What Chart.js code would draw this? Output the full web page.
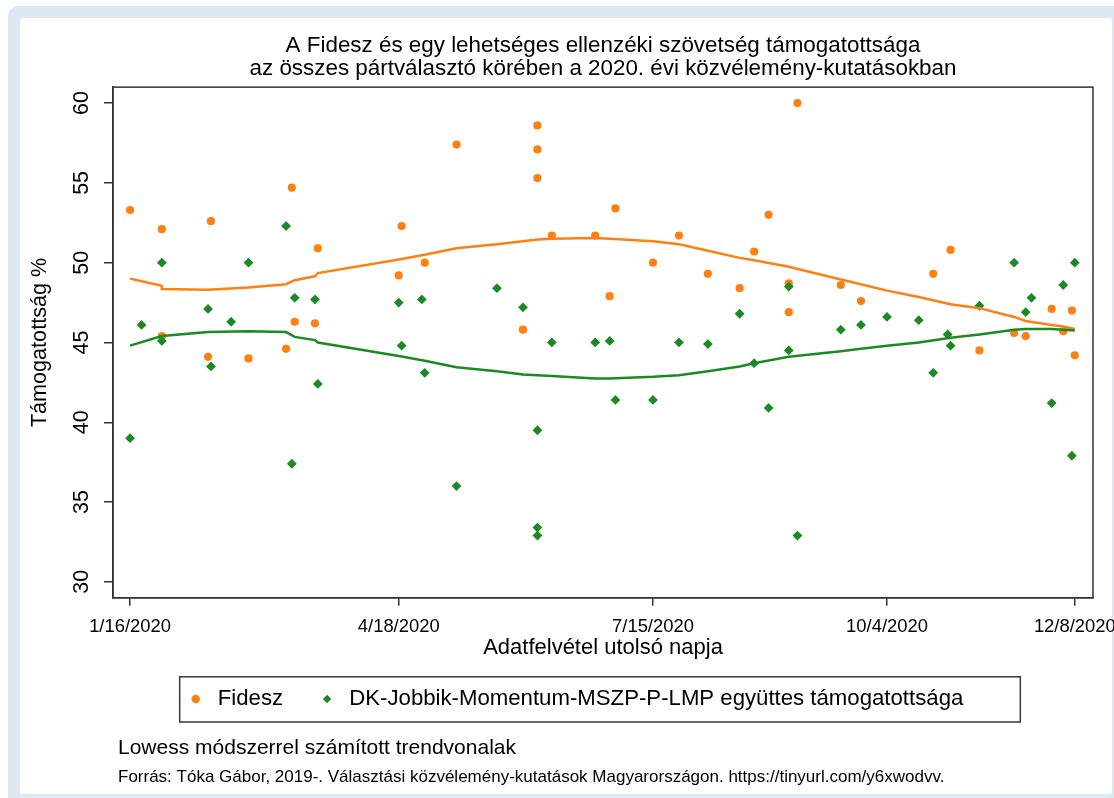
<!DOCTYPE html>
<html>
<head>
<meta charset="utf-8">
<script src="https://cdn.jsdelivr.net/npm/chart.js@4.4.1/dist/chart.umd.min.js"></script>
<style>
  html, body { margin: 0; padding: 0; background: #ffffff; overflow: hidden; }
  #wrap { width: 1114px; height: 798px; }
</style>
</head>
<body>
<div id="wrap"><canvas id="c" width="1114" height="798"></canvas></div>
<script>
// ---- DATA (x = days since 2020-01-16, the last fieldwork day) ----
const xTickDays   = [0, 93, 181, 262, 327];
const xTickLabels = ['1/16/2020', '4/18/2020', '7/15/2020', '10/4/2020', '12/8/2020'];
const yTicks      = [30, 35, 40, 45, 50, 55, 60];

const fideszDay = [0,11,11,27,28,41,54,56,57,64,65,93,94,102,113,136,141,141,141,146,161,166,168,181,190,200,211,216,221,228,228,231,246,253,278,284,294,306,310,319,323,326,327];
const fideszVal = [53.3,52.1,45.4,44.1,52.6,44.0,44.6,54.7,46.3,46.2,50.9,49.2,52.3,50.0,57.4,45.8,58.6,57.1,55.3,51.7,51.7,47.9,53.4,50.0,51.7,49.3,48.4,50.7,53.0,48.7,46.9,60.0,48.6,47.6,49.3,50.8,44.5,45.6,45.4,47.1,45.7,47.0,44.2];

const ellenDay = [0,4,11,11,27,28,35,41,54,56,57,64,65,93,94,101,102,113,127,136,141,141,141,146,161,166,168,181,190,200,211,216,221,228,228,231,246,253,262,273,278,283,284,294,306,310,312,319,323,326,327];
const ellenVal = [39.0,46.1,50.0,45.1,47.1,43.5,46.3,50.0,52.3,37.4,47.8,47.7,42.4,47.5,44.8,47.7,43.1,36.0,48.4,47.2,39.5,33.4,32.9,45.0,45.0,45.1,41.4,41.4,45.0,44.9,46.8,43.7,40.9,48.5,44.5,32.9,45.8,46.1,46.6,46.4,43.1,45.5,44.8,47.3,50.0,46.9,47.8,41.2,48.6,37.9,50.0];

const fideszTrendDay = [0,11,11,27,41,54,57,64,65,93,102,113,127,136,141,146,161,166,181,190,200,211,216,228,246,253,262,273,284,294,306,310,319,323,327];
const fideszTrendVal = [49.0,48.55,48.35,48.3,48.45,48.65,48.9,49.15,49.35,50.2,50.5,50.9,51.15,51.35,51.45,51.5,51.55,51.5,51.35,51.15,50.75,50.3,50.15,49.75,48.95,48.65,48.25,47.85,47.4,47.15,46.6,46.35,46.1,46.0,45.85];

const ellenTrendDay = [0,11,27,41,54,57,64,65,93,102,113,127,136,141,146,161,166,181,190,200,211,216,228,246,253,262,273,284,294,306,310,319,323,327];
const ellenTrendVal = [44.8,45.4,45.65,45.7,45.65,45.35,45.15,45.0,44.15,43.85,43.45,43.2,43.0,42.95,42.9,42.75,42.75,42.85,42.95,43.2,43.5,43.7,44.1,44.45,44.6,44.8,45.0,45.3,45.5,45.8,45.85,45.85,45.8,45.75];

const seriesLabels = ['Fidesz', 'DK-Jobbik-Momentum-MSZP-P-LMP együttes támogatottsága'];
const titleLines = ['A Fidesz és egy lehetséges ellenzéki szövetség támogatottsága',
                    'az összes pártválasztó körében a 2020. évi közvélemény-kutatásokban'];
const noteLine1 = 'Lowess módszerrel számított trendvonalak';
const noteLine2 = 'Forrás: Tóka Gábor, 2019-. Választási közvélemény-kutatások Magyarországon. https://tinyurl.com/y6xwodvv.';

// ---- STYLE ----
const ORANGE = '#ff8012';
const GREEN  = '#1b8a22';
const AXIS   = '#333333';
const FONT   = '"Liberation Sans", Arial, Helvetica, sans-serif';

const pts = (xs, ys) => xs.map((x, i) => ({ x: x, y: ys[i] }));
const noPad = s => { s.paddingLeft = 0; s.paddingRight = 0; s.paddingTop = 0; s.paddingBottom = 0; };

Chart.defaults.font.family = FONT;
Chart.defaults.color = '#000';

const framePlugin = {
  id: 'frame',
  beforeDraw(chart) {
    const c = chart.ctx, W = chart.width, H = chart.height;
    c.save();
    c.fillStyle = '#ffffff';
    c.fillRect(0, 0, W, H);
    c.fillStyle = '#dde8f3';
    c.beginPath(); c.roundRect(8, 6, W + 30, H + 30, 10); c.fill();
    c.fillStyle = '#ffffff';
    c.beginPath(); c.roundRect(20, 18, 1092, 776, 3); c.fill();
    c.restore();
  },
  afterLayout(chart) {
    // shift legend centre to match the reference
    chart.legend.left = 55;
  },
  afterDraw(chart) {
    const c = chart.ctx, a = chart.chartArea;
    c.save();
    // plot region box
    c.strokeStyle = AXIS; c.lineWidth = 1.5;
    c.strokeRect(a.left, a.top, a.right - a.left, a.bottom - a.top);
    // legend box
    const hb = chart.legend.legendHitBoxes;
    if (hb && hb.length) {
      const first = hb[0], last = hb[hb.length - 1];
      const l = first.left - 5, r = last.left + last.width + 57;
      const t = first.top - 11, b = first.top + first.height + 12;
      c.strokeStyle = '#3a3a3a'; c.lineWidth = 1.5;
      c.strokeRect(l, t, r - l, b - t);
    }
    // notes
    c.fillStyle = '#000';
    c.textBaseline = 'middle';
    c.textAlign = 'left';
    c.font = '21px ' + FONT;
    c.fillText(noteLine1, 118, 748);
    c.font = '17px ' + FONT;
    c.fillText(noteLine2, 118, 777);
    c.restore();
  }
};

new Chart(document.getElementById('c'), {
  type: 'scatter',
  data: {
    datasets: [
      { label: seriesLabels[0], data: pts(fideszDay, fideszVal), pointStyle: 'circle', pointRadius: 4.1,
        backgroundColor: ORANGE, borderColor: ORANGE, borderWidth: 0, order: 3 },
      { label: seriesLabels[1], data: pts(ellenDay, ellenVal), pointStyle: 'rectRot', pointRadius: 4.9,
        backgroundColor: GREEN, borderColor: GREEN, borderWidth: 0, order: 2 },
      { label: 'Fidesz trend', type: 'line', data: pts(fideszTrendDay, fideszTrendVal), borderColor: ORANGE,
        backgroundColor: ORANGE, borderWidth: 2.5, pointRadius: 0, fill: false, tension: 0, order: 1 },
      { label: 'Ellenzék trend', type: 'line', data: pts(ellenTrendDay, ellenTrendVal), borderColor: GREEN,
        backgroundColor: GREEN, borderWidth: 2.5, pointRadius: 0, fill: false, tension: 0, order: 0 }
    ]
  },
  options: {
    responsive: false,
    animation: false,
    events: [],
    layout: { autoPadding: false, padding: { left: 20, right: 21, top: 18, bottom: 78 } },
    scales: {
      x: {
        type: 'linear', min: -5.9, max: 333.3,
        afterBuildTicks: s => { s.ticks = xTickDays.map(v => ({ value: v })); },
        afterFit: s => { s.height = 57; noPad(s); },
        ticks: { autoSkip: false, maxRotation: 0, minRotation: 0, padding: 10,
                 font: { size: 18.4 }, color: '#000', callback: (v, i) => xTickLabels[i] },
        grid: { display: true, drawOnChartArea: false, drawTicks: true, tickLength: 8, color: AXIS, lineWidth: 1.5 },
        border: { display: true, color: AXIS, width: 1.5 },
        title: { display: true, text: 'Adatfelvétel utolsó napja', color: '#000',
                 font: { size: 22, lineHeight: 0.64 }, padding: { top: 0, bottom: 0 } }
      },
      y: {
        min: 29, max: 61,
        afterBuildTicks: s => { s.ticks = yTicks.map(v => ({ value: v })); },
        afterFit: s => { s.width = 93; noPad(s); },
        ticks: { autoSkip: false, minRotation: 90, maxRotation: 90, crossAlign: 'center', padding: 10,
                 font: { size: 21.5 }, color: '#000' },
        grid: { display: true, drawOnChartArea: false, drawTicks: true, tickLength: 9, color: AXIS, lineWidth: 1.5 },
        border: { display: true, color: AXIS, width: 1.5 },
        title: { display: true, text: 'Támogatottság %', color: '#000',
                 font: { size: 21.6, lineHeight: 1.2 }, padding: { top: 7, bottom: 0 } }
      }
    },
    plugins: {
      title: { display: true, text: titleLines, color: '#000', fullSize: false,
               font: { size: 22.4, weight: 'normal', lineHeight: 1.03 }, padding: { top: 16, bottom: 7 } },
      legend: {
        display: true, position: 'bottom', fullSize: false,
        labels: {
          usePointStyle: true, boxWidth: 22, boxHeight: 6, padding: 33, color: '#000',
          font: { size: 22.2 },
          filter: item => item.datasetIndex < 2,
          sort: (a, b) => a.datasetIndex - b.datasetIndex
        }
      },
      tooltip: { enabled: false }
    }
  },
  plugins: [framePlugin]
});
</script>
</body>
</html>
